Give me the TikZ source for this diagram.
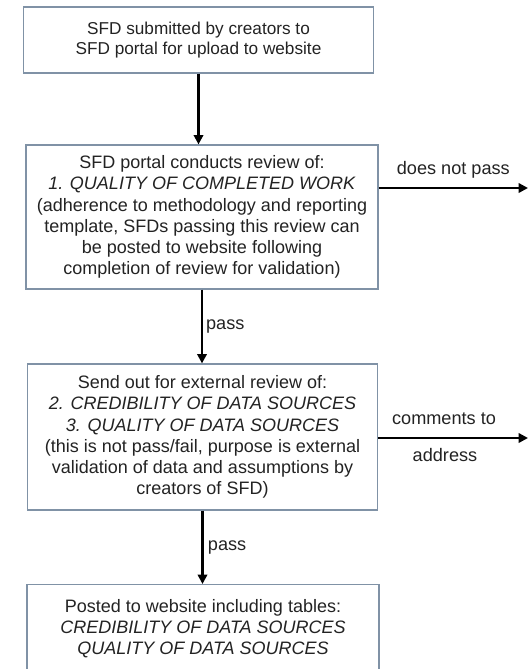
\documentclass[tikz,border=0pt]{standalone}
\usepackage{fontspec}
\setmainfont{Liberation Sans}
\usetikzlibrary{arrows.meta}
\definecolor{boxline}{RGB}{128,146,166}
\definecolor{ink}{RGB}{35,35,35}

\begin{document}
\begin{tikzpicture}[x=0.75pt, y=-0.75pt,
    stage/.style={draw=boxline, line width=0.9pt, fill=white, text=ink,
      align=center, inner sep=0pt, font=\fontsize{13.5}{15.9}\selectfont},
    flow/.style={line width=2.2pt, -{Triangle[length=7pt, width=7pt]}},
    note/.style={text=ink, font=\fontsize{13.6}{15.9}\selectfont, inner sep=0pt}]
                \clip (0,0) rectangle (529,669);
                \fill[white] (0,0) rectangle (529,669);
                % boxes
                \node[stage, minimum width=263pt, minimum height=49.5pt,
                    font=\fontsize{12.9}{14.5}\selectfont] (submit) at (198.5,40)
                    {SFD submitted by creators to\\SFD portal for upload to website};
                \node[stage, minimum width=264pt, minimum height=108pt] (portal) at (202,217)
                    {SFD portal conducts review of:\\\textit{1. QUALITY OF COMPLETED WORK}\\(adherence to methodology and reporting\\template, SFDs passing this review can\\be posted to website following\\completion of review for validation)};
                \node[stage, minimum width=263pt, minimum height=109.5pt] (external) at (202.5,437)
                    {Send out for external review of:\\\textit{2. CREDIBILITY OF DATA SOURCES}\\\textit{3. QUALITY OF DATA SOURCES}\\(this is not pass/fail, purpose is external\\validation of data and assumptions by\\creators of SFD)};
                \node[stage, minimum width=264pt, minimum height=66pt, anchor=north] (posted) at (203,584)
                    {Posted to website including tables:\\\textit{CREDIBILITY OF DATA SOURCES}\\\textit{QUALITY OF DATA SOURCES}};
                % free ends on the right
                \coordinate (fail) at (528,188);
                \coordinate (comments) at (528,438);
                % connectors
                \draw[flow] (submit.south) -- (submit.south |- portal.north);
                \draw[flow] (portal.south) -- (portal.south |- external.north)
                    node[note, midway, right=2pt] {pass};
                \draw[flow] (external.south) -- (external.south |- posted.north)
                    node[note, midway, right=3pt] {pass};
                \draw[flow] (portal.east |- fail) -- (fail)
                    node[note, midway, above=6pt] {does not pass};
                \draw[flow] (external.east |- comments) -- (comments);
                \node[note] (commentsa) at (444,419) {comments to};
                \node[note] (commentsb) at (445,455) {address};
\end{tikzpicture}
\end{document}
